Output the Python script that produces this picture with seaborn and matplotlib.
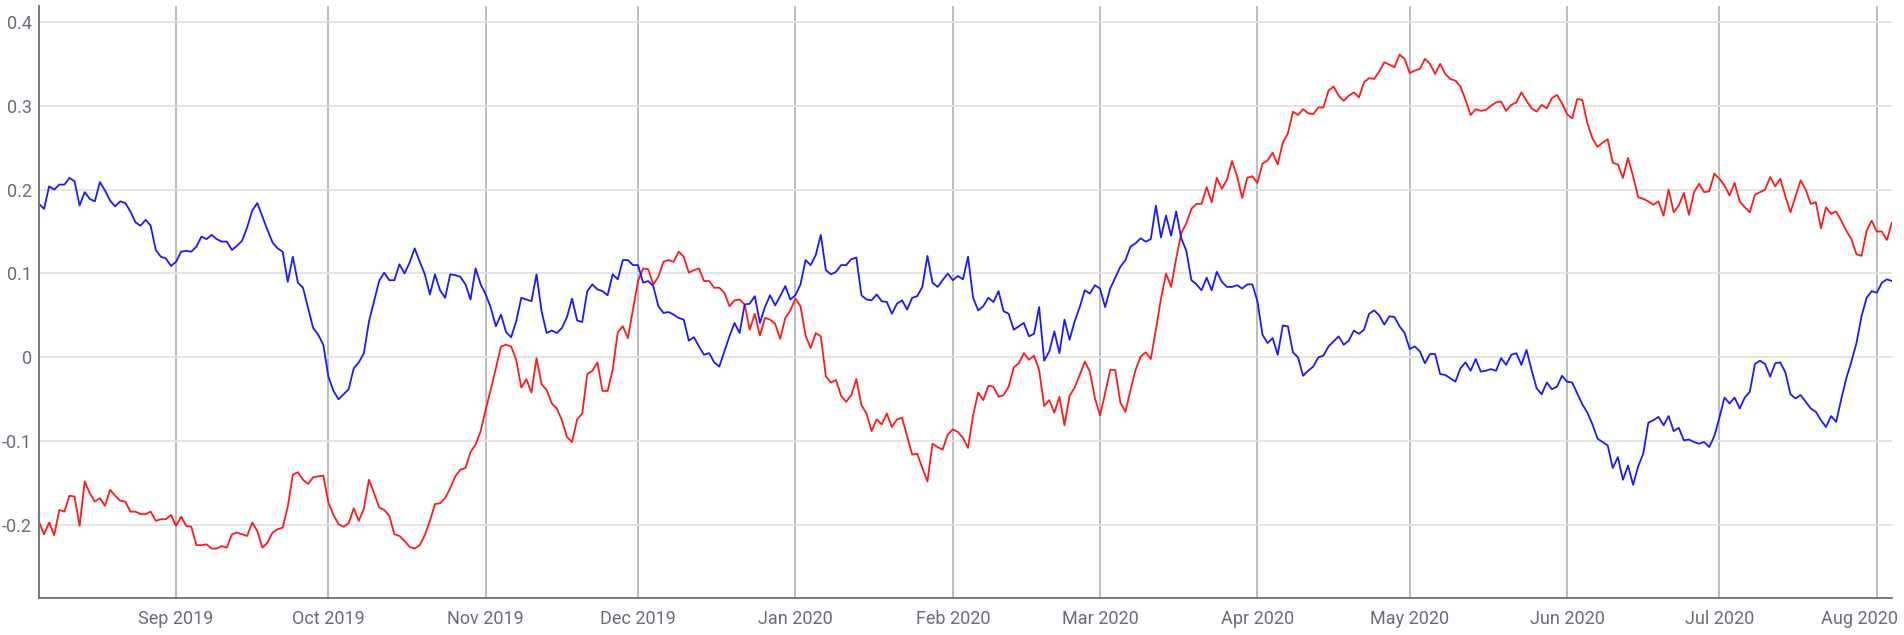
import numpy as np
import pandas as pd
import matplotlib
matplotlib.use("Agg")
import matplotlib.pyplot as plt
import matplotlib.dates as mdates
import matplotlib.transforms as mtransforms
import seaborn as sns

start_date = "2019-08-05"

blue_values = [
    0.183, 0.177, 0.204, 0.200, 0.206, 0.206, 0.214, 0.210, 0.181, 0.197,
    0.189, 0.186, 0.209, 0.199, 0.187, 0.180, 0.186, 0.184, 0.174, 0.161,
    0.157, 0.164, 0.157, 0.128, 0.120, 0.118, 0.109, 0.114, 0.126, 0.127,
    0.126, 0.132, 0.144, 0.141, 0.146, 0.141, 0.138, 0.138, 0.128, 0.133,
    0.139, 0.155, 0.175, 0.184, 0.168, 0.152, 0.137, 0.130, 0.126, 0.090,
    0.120, 0.089, 0.083, 0.059, 0.035, 0.027, 0.015, -0.023, -0.040, -0.050,
    -0.044, -0.038, -0.013, -0.006, 0.005, 0.043, 0.067, 0.091, 0.101, 0.092,
    0.092, 0.111, 0.100, 0.113, 0.130, 0.114, 0.099, 0.075, 0.099, 0.080,
    0.071, 0.099, 0.098, 0.096, 0.087, 0.069, 0.106, 0.087, 0.075, 0.059,
    0.037, 0.051, 0.030, 0.024, 0.043, 0.071, 0.069, 0.067, 0.099, 0.055,
    0.029, 0.032, 0.029, 0.035, 0.048, 0.070, 0.044, 0.042, 0.079, 0.087,
    0.081, 0.079, 0.074, 0.099, 0.093, 0.116, 0.116, 0.110, 0.110, 0.089,
    0.091, 0.085, 0.061, 0.053, 0.054, 0.051, 0.047, 0.045, 0.020, 0.024,
    0.013, 0.003, 0.005, -0.006, -0.011, 0.007, 0.025, 0.041, 0.029, 0.063,
    0.064, 0.073, 0.041, 0.060, 0.074, 0.062, 0.073, 0.085, 0.069, 0.074,
    0.087, 0.116, 0.110, 0.122, 0.146, 0.104, 0.099, 0.102, 0.110, 0.110,
    0.117, 0.119, 0.074, 0.069, 0.068, 0.075, 0.067, 0.066, 0.052, 0.064,
    0.068, 0.057, 0.071, 0.073, 0.084, 0.121, 0.089, 0.084, 0.092, 0.100,
    0.092, 0.097, 0.093, 0.120, 0.071, 0.056, 0.061, 0.071, 0.066, 0.079,
    0.055, 0.052, 0.033, 0.037, 0.041, 0.025, 0.028, 0.060, -0.004, 0.007,
    0.031, 0.005, 0.045, 0.021, 0.043, 0.060, 0.080, 0.076, 0.086, 0.082,
    0.060, 0.082, 0.095, 0.108, 0.116, 0.132, 0.136, 0.142, 0.138, 0.141,
    0.181, 0.143, 0.169, 0.145, 0.174, 0.142, 0.127, 0.092, 0.087, 0.080,
    0.095, 0.080, 0.102, 0.090, 0.084, 0.084, 0.086, 0.082, 0.087, 0.087,
    0.067, 0.027, 0.017, 0.023, 0.003, 0.038, 0.037, 0.006, 0.000, -0.022,
    -0.016, -0.011, 0.000, 0.002, 0.013, 0.019, 0.025, 0.015, 0.020, 0.032,
    0.028, 0.033, 0.052, 0.056, 0.050, 0.039, 0.049, 0.048, 0.037, 0.029,
    0.010, 0.013, 0.007, -0.007, 0.004, 0.004, -0.020, -0.021, -0.025, -0.029,
    -0.013, -0.006, -0.016, -0.002, -0.017, -0.016, -0.014, -0.016, -0.001, -0.009,
    0.003, 0.005, -0.009, 0.009, -0.015, -0.037, -0.044, -0.030, -0.038, -0.035,
    -0.022, -0.029, -0.030, -0.043, -0.056, -0.066, -0.080, -0.097, -0.101, -0.105,
    -0.132, -0.119, -0.146, -0.129, -0.152, -0.130, -0.115, -0.078, -0.075, -0.071,
    -0.081, -0.070, -0.088, -0.084, -0.099, -0.098, -0.101, -0.103, -0.101, -0.107,
    -0.094, -0.072, -0.048, -0.055, -0.048, -0.061, -0.048, -0.041, -0.008, -0.004,
    -0.008, -0.023, -0.007, -0.006, -0.018, -0.044, -0.049, -0.045, -0.053, -0.061,
    -0.065, -0.075, -0.083, -0.070, -0.077, -0.050, -0.025, -0.005, 0.017, 0.049,
    0.071, 0.079, 0.077, 0.089, 0.093, 0.091,
]

red_values = [
    -0.196, -0.211, -0.197, -0.212, -0.182, -0.184, -0.165, -0.166, -0.201, -0.148,
    -0.162, -0.172, -0.168, -0.177, -0.158, -0.165, -0.171, -0.172, -0.184, -0.184,
    -0.187, -0.187, -0.184, -0.195, -0.193, -0.193, -0.188, -0.201, -0.190, -0.201,
    -0.202, -0.224, -0.224, -0.223, -0.228, -0.228, -0.225, -0.227, -0.211, -0.209,
    -0.211, -0.213, -0.197, -0.207, -0.227, -0.221, -0.209, -0.205, -0.203, -0.178,
    -0.140, -0.137, -0.146, -0.151, -0.143, -0.142, -0.141, -0.173, -0.188, -0.199,
    -0.202, -0.198, -0.180, -0.195, -0.180, -0.146, -0.162, -0.179, -0.182, -0.189,
    -0.211, -0.213, -0.219, -0.226, -0.228, -0.224, -0.212, -0.195, -0.175, -0.174,
    -0.168, -0.156, -0.142, -0.134, -0.132, -0.113, -0.104, -0.088, -0.062, -0.038,
    -0.013, 0.013, 0.015, 0.013, -0.003, -0.036, -0.026, -0.042, -0.001, -0.032,
    -0.039, -0.055, -0.061, -0.075, -0.095, -0.101, -0.074, -0.067, -0.020, -0.016,
    -0.006, -0.040, -0.040, -0.015, 0.030, 0.037, 0.023, 0.057, 0.091, 0.106,
    0.105, 0.087, 0.096, 0.114, 0.116, 0.114, 0.126, 0.120, 0.101, 0.104,
    0.106, 0.091, 0.091, 0.083, 0.083, 0.077, 0.061, 0.068, 0.069, 0.063,
    0.033, 0.052, 0.026, 0.047, 0.045, 0.040, 0.022, 0.047, 0.056, 0.070,
    0.061, 0.026, 0.011, 0.029, 0.025, -0.023, -0.030, -0.027, -0.046, -0.053,
    -0.045, -0.026, -0.057, -0.067, -0.088, -0.074, -0.080, -0.067, -0.083, -0.074,
    -0.072, -0.094, -0.116, -0.115, -0.132, -0.148, -0.103, -0.107, -0.110, -0.092,
    -0.086, -0.089, -0.096, -0.108, -0.069, -0.042, -0.051, -0.034, -0.035, -0.047,
    -0.045, -0.035, -0.012, -0.007, 0.005, -0.003, 0.002, -0.015, -0.058, -0.051,
    -0.066, -0.047, -0.081, -0.046, -0.036, -0.021, -0.005, -0.017, -0.049, -0.069,
    -0.043, -0.015, -0.015, -0.054, -0.065, -0.039, -0.015, 0.001, 0.006, -0.002,
    0.033, 0.070, 0.100, 0.084, 0.118, 0.148, 0.160, 0.177, 0.183, 0.183,
    0.203, 0.185, 0.214, 0.201, 0.212, 0.234, 0.216, 0.190, 0.214, 0.216,
    0.208, 0.231, 0.235, 0.244, 0.230, 0.256, 0.267, 0.293, 0.289, 0.296,
    0.291, 0.290, 0.298, 0.298, 0.318, 0.323, 0.312, 0.306, 0.312, 0.316,
    0.310, 0.328, 0.333, 0.332, 0.341, 0.352, 0.349, 0.346, 0.361, 0.356,
    0.339, 0.342, 0.344, 0.356, 0.350, 0.338, 0.350, 0.338, 0.332, 0.330,
    0.323, 0.307, 0.289, 0.296, 0.294, 0.295, 0.300, 0.304, 0.305, 0.294,
    0.301, 0.304, 0.316, 0.306, 0.297, 0.293, 0.301, 0.297, 0.309, 0.313,
    0.303, 0.290, 0.285, 0.308, 0.307, 0.279, 0.261, 0.251, 0.256, 0.260,
    0.232, 0.230, 0.214, 0.238, 0.216, 0.191, 0.189, 0.186, 0.182, 0.186,
    0.169, 0.200, 0.173, 0.181, 0.196, 0.170, 0.197, 0.207, 0.197, 0.198,
    0.219, 0.213, 0.205, 0.193, 0.208, 0.186, 0.179, 0.173, 0.194, 0.197,
    0.200, 0.215, 0.204, 0.213, 0.192, 0.173, 0.192, 0.211, 0.200, 0.183,
    0.185, 0.154, 0.179, 0.171, 0.174, 0.163, 0.151, 0.141, 0.123, 0.121,
    0.151, 0.163, 0.150, 0.150, 0.140, 0.161,
]

y_ticks = [-0.2, -0.1, 0.0, 0.1, 0.2, 0.3, 0.4]
y_tick_labels = ["-0.2", "-0.1", "0", "0.1", "0.2", "0.3", "0.4"]
series_names = ["red", "blue"]
series_colors = {"red": "#ff1a1a", "blue": "#1a1aff"}

n = min(len(blue_values), len(red_values))
dates = pd.date_range(start_date, periods=n, freq="D")
df = pd.concat([
    pd.DataFrame({"date": dates, "value": red_values[:n], "series": "red"}),
    pd.DataFrame({"date": dates, "value": blue_values[:n], "series": "blue"}),
], ignore_index=True)

sns.set_theme(style="white")
plt.rcParams["font.family"] = ["Roboto", "DejaVu Sans"]

fig = plt.figure(figsize=(19.04, 6.35), dpi=100)
ax = fig.add_axes([39 / 1904, 1 - 598 / 635, (1892 - 39) / 1904, (598 - 6) / 635])

sns.lineplot(data=df, x="date", y="value", hue="series", hue_order=series_names,
             palette=series_colors, linewidth=1.3, ax=ax, legend=False,
             estimator=None, sort=False)

ax.set_xlim(dates[0], dates[-1])
ax.set_ylim(-0.287, 0.419)
ax.set_yticks(y_ticks)
ax.set_yticklabels(y_tick_labels)
ax.xaxis.set_major_locator(mdates.MonthLocator())
ax.xaxis.set_major_formatter(mdates.DateFormatter("%b %Y"))

ax.xaxis.grid(True, color="#b8b8b8", linewidth=1.3)
ax.yaxis.grid(True, color="#e2e2e2", linewidth=1.3)
ax.set_axisbelow(True)

for side in ["top", "right"]:
    ax.spines[side].set_visible(False)
for side in ["left", "bottom"]:
    ax.spines[side].set_color("#707070")
    ax.spines[side].set_linewidth(1.3)

ax.tick_params(axis="both", length=0, labelsize=13, labelcolor="#6b6b7b")
ax.tick_params(axis="x", pad=9)
ax.tick_params(axis="y", pad=5)
ax.set_xlabel("")
ax.set_ylabel("")

# keep the last month label inside the canvas, as in the reference
fig.canvas.draw()
last_label = ax.get_xticklabels()[-1]
last_label.set_transform(last_label.get_transform() +
                         mtransforms.ScaledTranslation(-17 / 100, 0, fig.dpi_scale_trans))

fig.savefig("out.png", dpi=100)
